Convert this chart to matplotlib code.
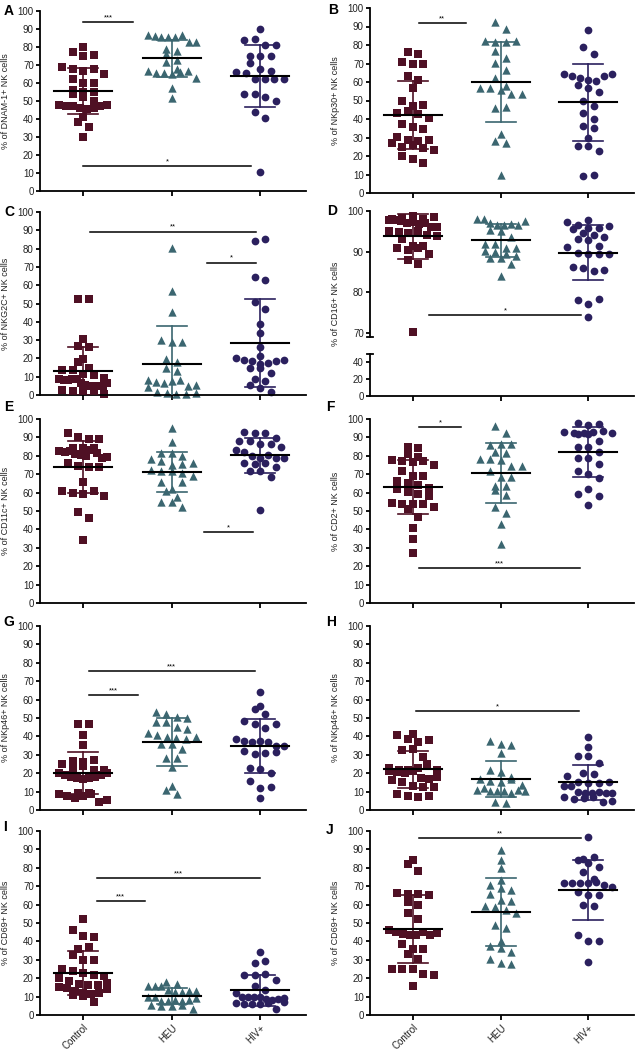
import numpy as np
import matplotlib
matplotlib.use("Agg")
import matplotlib.pyplot as plt

plt.rcParams['font.family'] = ['Liberation Sans', 'DejaVu Sans']

# -------------------------------------------------------
# Data (% of NK cells)
# -------------------------------------------------------

groups = ["Control", "HEU", "HIV+"]

dnam1_control = [80, 77, 75, 75.5, 69, 68, 66.5, 68, 65, 62, 60, 60, 56, 55, 54, 55, 52.5, 50,
                 48, 47.5, 47, 46, 45.5, 46, 47, 48, 41, 38.5, 35.5, 30]
dnam1_heu = [86.8, 86, 85.7, 85.3, 85.7, 86.8, 82.6, 82.6, 79, 78, 76, 72.7, 71.4, 68, 66.5,
             65.7, 65.5, 65, 66, 66.5, 63, 57.5, 51.4]
dnam1_hiv = [90, 84, 84.5, 81, 81, 75, 75, 75, 71, 68, 66.8, 66, 65.5, 62, 62, 62, 62, 54, 54,
             52, 50, 44, 40.5, 10.5]

nkp30_control = [76, 75, 71, 70, 70, 63, 61, 56.5, 50, 47, 47.5, 43.5, 44.5, 42.5, 40.5, 37.5,
                 35.5, 34.5, 30.5, 28.5, 28, 28.5, 27, 25, 26, 24.5, 23, 20, 18.5, 16]
nkp30_heu = [92.5, 88.5, 82, 81.5, 81.5, 82, 77, 73, 70.5, 66.5, 62, 58, 57, 57, 55.5, 53.5,
             53.5, 46, 46.5, 32, 28, 27, 10]
nkp30_hiv = [88, 79, 75, 64.4, 63, 62.4, 61, 60.6, 58.6, 63, 64.4, 57, 54.5, 49.5, 47, 43.5, 40,
             36, 35, 30, 25.5, 25.5, 22.5, 9, 10]

nkg2c_control = [52.5, 52.5, 30.5, 27, 26, 19.5, 18, 15, 13.5, 13.5, 11.5, 11, 9.5, 8.5, 8, 8,
                 8.5, 9, 6.5, 5.5, 5, 5, 5, 5, 6.5, 2.5, 2, 2, 2.5, 0.5]
nkg2c_heu = [80.5, 57, 45.5, 30, 29, 29, 19.5, 18, 15, 13, 8, 7, 6.5, 7.5, 8, 5, 5.5, 4.5, 1.5,
             1, 0.5, 0.5, 1]
nkg2c_hiv = [84, 85.5, 64.5, 63, 51, 47, 39, 34, 26.5, 21.5, 20, 19, 18.5, 17, 17.5, 18.5, 19,
             14.5, 14.5, 12, 8.5, 7.5, 5.5, 4, 1.5]

cd16_control = [98, 97.8, 98.4, 98.8, 97.8, 98, 98.5, 97.5, 97, 97.2, 96.7, 97, 96, 96, 95, 94.8,
                94.5, 95, 94, 93.8, 93, 91.5, 91, 90.5, 91, 91.3, 89.3, 88, 87, 70.3]
cd16_heu = [98, 98, 97, 96.5, 96.5, 96.8, 96.5, 97.5, 95.3, 95.2, 93.5, 92, 92, 91, 91, 90.2, 90,
            89.5, 89, 88.5, 88.5, 86.9, 84]
cd16_hiv = [97.8, 97.2, 96.5, 95.7, 95.6, 95.7, 96.2, 94.7, 94, 93.7, 93, 92.8, 91.5, 91.2, 89.7,
            89.5, 89.3, 89.4, 86.2, 86, 85.3, 85.5, 78, 77, 78.3, 74]

cd11c_control = [92.5, 90, 89, 89, 84, 84, 84, 82.5, 82, 82.5, 81, 80.5, 80, 83, 81.5, 79, 79.5,
                 76, 74.5, 74, 74, 66, 61, 60, 59, 61, 58, 49.5, 46, 34.5]
cd11c_heu = [95, 87.5, 81.5, 81.5, 78.5, 77, 75, 75.5, 72.5, 72, 71.5, 70.5, 69, 66, 62, 61,
             57.5, 55, 55, 52, 76, 80, 66]
cd11c_hiv = [93, 92.5, 92.5, 89.5, 88, 88, 86.5, 86.5, 85, 83, 82, 80, 79, 80.5, 79, 79, 76, 75.5,
             76, 74, 71.5, 71.5, 68.5, 50.5]

cd2_control = [85, 84.5, 81, 79.5, 77.5, 77, 76.5, 77, 75, 72, 69, 69, 66.5, 65, 64, 62.5, 62,
               60.5, 59, 58, 54.5, 54, 54, 54, 52, 51, 47, 40.5, 35, 27]
cd2_heu = [96, 92.5, 86, 86.5, 86.5, 82, 81.5, 78.5, 78.5, 77.5, 74.5, 74.5, 71.5, 68.5, 68.5,
           63.5, 63.5, 61.5, 58.5, 52, 49, 43, 32]
cd2_hiv = [98, 97, 97.5, 93, 92.5, 92, 92.5, 92, 93, 93.5, 92.5, 88, 85, 85, 82, 79, 79, 75.5,
           71.5, 70, 68, 59.5, 62, 58, 53.5]

nkp46g_control = [47, 46.5, 40.5, 35.5, 26.5, 25, 23, 24, 26, 27, 22, 21.5, 20, 19, 18, 17.5, 17,
                  17.5, 18, 19, 20, 9, 8.5, 7.5, 6.5, 7.5, 8.5, 9, 4.5, 5.5]
nkp46g_heu = [53.5, 52, 50.5, 50, 48, 48, 45, 44, 42, 41, 39.5, 39, 38.5, 39.5, 36, 36, 33, 28,
              28, 23.5, 13, 11, 8.5]
nkp46g_hiv = [64, 56.5, 55, 52, 48.5, 46.5, 44.5, 47, 38.5, 37.5, 37, 37.5, 37, 35, 35, 32, 30.5,
              31, 31.5, 23, 22.5, 20, 15.5, 12, 12.5, 6.5]

nkp46h_control = [41.5, 41, 38.5, 37, 38, 32.5, 33, 29, 23, 21.5, 21, 21.5, 23, 25, 20.5, 20, 21,
                  17.5, 16.5, 15, 17, 18, 13, 12.5, 12.5, 8.5, 7.5, 7, 7.5, 22]
nkp46h_heu = [37.5, 36, 35.5, 31, 21.5, 20.5, 18, 17, 16, 15, 17, 13.5, 11, 12, 10.5, 10.5, 10.5,
              9, 11, 10.5, 4.5, 4]
nkp46h_hiv = [39.5, 34, 29.5, 29.5, 25.5, 20, 19.5, 18.5, 15, 14.5, 14.5, 15, 13, 13, 10, 9.5, 9,
              10, 9, 9.5, 7, 6, 6.5, 7, 4.5, 5]

cd69i_control = [52, 46, 43, 42.5, 36, 37, 32.5, 30, 30, 25, 24, 23, 21.5, 20, 21, 18.5, 17, 16.5,
                 15, 14.5, 16.5, 17.5, 13, 12, 11, 10.5, 11.5, 12, 7, 14]
cd69i_heu = [18, 17, 15.5, 15.5, 16, 13.5, 12.5, 12.5, 13, 13, 10, 10, 7.5, 7.5, 8, 7.5, 8, 5.5,
             5, 5, 5.5, 3, 9.5]
cd69i_hiv = [34, 28.5, 29.5, 22, 22, 22.5, 19, 16, 13.5, 12, 10, 10, 10, 10, 8.5, 8, 8.5, 6.5, 6,
             6, 6, 6.5, 3.5, 9, 7]

cd69j_control = [84, 82, 78.5, 66.5, 65.5, 65.5, 65, 61.5, 60, 55.5, 52, 46, 45, 44, 43.5, 43.5,
                 45, 43.5, 38.5, 36, 36, 33, 30.5, 25, 25, 25, 22.5, 22, 16, 44.5]
cd69j_heu = [89.5, 84.5, 80, 73.5, 70.5, 69, 68, 66, 62.5, 62, 59.5, 58.5, 57, 55.5, 49, 47.5,
             40, 37.5, 36.5, 34.5, 30.5, 28.5, 27.5]
cd69j_hiv = [96.5, 85, 84.5, 86, 82.5, 80.5, 77.5, 74, 72, 71.5, 71.5, 72, 72.5, 70.5, 69.5, 67,
             65, 65, 60, 59, 43.5, 40, 40, 29]

panel_letters = ["A", "B", "C", "D", "E", "F", "G", "H", "I", "J"]

ylabels = [
    "% of DNAM-1+ NK cells",
    "% of NKp30+ NK cells",
    "% of NKG2C+ NK cells",
    "% of CD16+ NK cells",
    "% of CD11c+ NK cells",
    "% of CD2+ NK cells",
    "% of NKp46+ NK cells",
    "% of NKp46+ NK cells",
    "% of CD69+ NK cells",
    "% of CD69+ NK cells",
]

panel_data = [
    (dnam1_control, dnam1_heu, dnam1_hiv),
    (nkp30_control, nkp30_heu, nkp30_hiv),
    (nkg2c_control, nkg2c_heu, nkg2c_hiv),
    (cd16_control, cd16_heu, cd16_hiv),
    (cd11c_control, cd11c_heu, cd11c_hiv),
    (cd2_control, cd2_heu, cd2_hiv),
    (nkp46g_control, nkp46g_heu, nkp46g_hiv),
    (nkp46h_control, nkp46h_heu, nkp46h_hiv),
    (cd69i_control, cd69i_heu, cd69i_hiv),
    (cd69j_control, cd69j_heu, cd69j_hiv),
]

# significance bars: (panel index, x start, x end, y, label)
significance = [
    (0, 0.0, 0.56, 93.7, "***"),
    (0, 0.0, 1.9, 13.9, "*"),
    (1, 0.07, 0.6, 92, "**"),
    (2, 0.08, 1.95, 89.3, "**"),
    (2, 1.4, 1.95, 72.4, "*"),
    (3, 0.18, 1.92, 74.5, "*"),
    (4, 1.37, 1.92, 38.7, "*"),
    (5, 0.07, 0.55, 95.8, "*"),
    (5, 0.07, 1.91, 19, "***"),
    (6, 0.06, 1.94, 75.6, "***"),
    (6, 0.06, 0.62, 62.6, "***"),
    (7, 0.03, 1.89, 53.9, "*"),
    (8, 0.15, 2.0, 74.5, "***"),
    (8, 0.15, 0.7, 61.8, "***"),
    (9, 0.07, 1.92, 96.4, "**"),
]

# -------------------------------------------------------
# Figure layout (pixels)
# -------------------------------------------------------

W, H = 643, 1050
fig = plt.figure(figsize=(W / 100, H / 100), dpi=100)

colors = ["#4f1024", "#3b6670", "#2b205e"]
markers = ["s", "^", "o"]
sizes = [27, 36, 31]

LEFT = (40, 306)
RIGHT = (370, 634)

# (x range, y pixel of top, y pixel of bottom)
panel_boxes = [
    (LEFT, 11, 191),
    (RIGHT, 8, 193),
    (LEFT, 212, 395),
    (RIGHT, 211, 396),
    (LEFT, 419, 603),
    (RIGHT, 419, 603),
    (LEFT, 626, 810),
    (RIGHT, 626, 810),
    (LEFT, 831, 1015),
    (RIGHT, 831, 1015),
]

letter_pos = [(9, 11), (333, 10), (9, 212), (332, 211), (9, 407), (330, 407),
              (9, 622), (331, 622), (5, 827), (330, 830)]

XLIM = (-0.49, 2.52)


def px_axes(xr, ytop, ybot):
    x0, x1 = xr
    return fig.add_axes([x0 / W, 1 - ybot / H, (x1 - x0) / W, (ybot - ytop) / H])


def style_axes(ax, yticks, ylim, bottom=True, xlabels=False):
    ax.set_xlim(*XLIM)
    ax.set_ylim(*ylim)
    ax.set_yticks(yticks)
    for s in ["top", "right"]:
        ax.spines[s].set_visible(False)
    for s in ["left", "bottom"]:
        ax.spines[s].set_linewidth(1.3)
    ax.tick_params(axis="y", length=3, width=1.3, pad=1.5, labelsize=7, labelcolor="#222222")
    if bottom:
        ax.set_xticks([0, 1, 2])
        ax.tick_params(axis="x", length=3.5, width=1.3, pad=2)
        if xlabels:
            ax.set_xticklabels(groups, rotation=45, ha="right", rotation_mode="anchor",
                               fontsize=7, color="#222222")
        else:
            ax.set_xticklabels([])
    else:
        ax.spines["bottom"].set_visible(False)
        ax.set_xticks([])


def row_scatter_x(ax, i, vals, row_h=8.0, step=10.5, half_max=24.0):
    # GraphPad-like layout: points grouped into horizontal rows, spread evenly
    vals = np.asarray(vals, dtype=float)
    pts = ax.transData.transform(np.column_stack([np.full(len(vals), i), vals]))
    ypx = pts[:, 1]
    unit = ax.transData.transform([(1, 0)])[0, 0] - ax.transData.transform([(0, 0)])[0, 0]
    order = np.argsort(ypx, kind="stable")
    rows = []
    for k in order:
        if rows and ypx[k] - ypx[rows[-1][0]] < row_h:
            rows[-1].append(k)
        else:
            rows.append([k])
    offs = np.zeros(len(vals))
    for row in rows:
        row = sorted(row)
        n = len(row)
        if n > 1:
            sp = min(step, 2 * half_max / (n - 1))
            for j, k in enumerate(row):
                offs[k] = (j - (n - 1) / 2) * sp
    return i + offs / unit


def draw_groups(ax, data):
    for i, vals in enumerate(data):
        xs = row_scatter_x(ax, i, vals)
        ax.scatter(xs, vals, s=sizes[i], marker=markers[i], color=colors[i],
                   linewidths=0, zorder=2, clip_on=False)
        m = np.mean(vals)
        sd = np.std(vals, ddof=1)
        ax.plot([i, i], [m - sd, m + sd], color=colors[i], lw=1.2, zorder=3)
        ax.plot([i - 0.17, i + 0.17], [m + sd, m + sd], color=colors[i], lw=1.2, zorder=3)
        ax.plot([i - 0.17, i + 0.17], [m - sd, m - sd], color=colors[i], lw=1.2, zorder=3)
        ax.plot([i - 0.33, i + 0.33], [m, m], color="black", lw=1.5, zorder=4)


axes = []
for p in range(10):
    xr, ytop, ybot = panel_boxes[p]
    if p == 3:
        # broken axis: 69-100 on top, 0-50 below
        ax = px_axes(xr, ytop, 337)
        style_axes(ax, [70, 80, 90, 100], (69, 100), bottom=False)
        ax.plot([-0.012, 0.012], [0, 0], transform=ax.transAxes, color="black",
                lw=1.3, clip_on=False)
        ax_low = px_axes(xr, 353.5, ybot)
        style_axes(ax_low, [0, 20, 40], (0, 50))
        ax_low.plot([-0.012, 0.012], [1, 1], transform=ax_low.transAxes, color="black",
                    lw=1.3, clip_on=False)
    else:
        ax = px_axes(xr, ytop, ybot)
        style_axes(ax, np.arange(0, 101, 10), (0, 100), xlabels=(p >= 8))
    draw_groups(ax, panel_data[p])
    axes.append(ax)

    # y label and panel letter
    xc = 6 if xr == LEFT else 336
    fig.text(xc / W, 1 - (ytop + ybot) / 2 / H, ylabels[p], rotation=90,
             ha="center", va="center", fontsize=6.5, color="#222222")
    lx, ly = letter_pos[p]
    fig.text(lx / W, 1 - ly / H, panel_letters[p], ha="center", va="center",
             fontsize=10, fontweight="bold")

for p, x0, x1, y, label in significance:
    ax = axes[p]
    ax.plot([x0, x1], [y, y], color="black", lw=1.1, zorder=4, clip_on=False)
    ax.annotate(label, ((x0 + x1) / 2, y), xytext=(0, 0.5), textcoords="offset points",
                ha="center", va="bottom", fontsize=5.5)

fig.savefig("out.png", dpi=100)
